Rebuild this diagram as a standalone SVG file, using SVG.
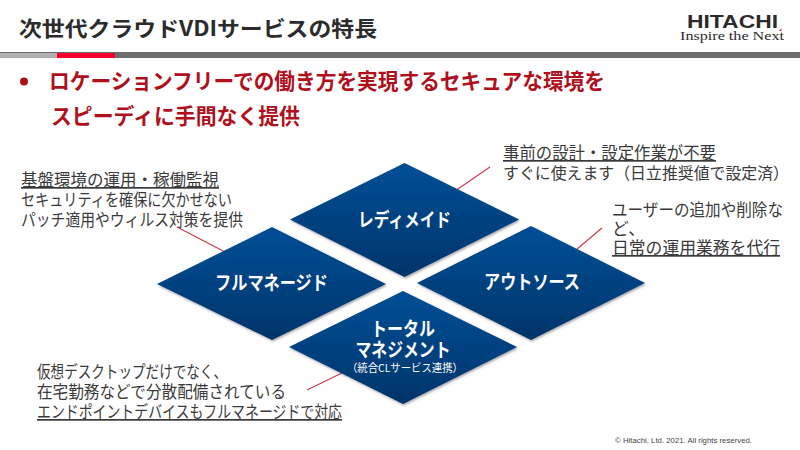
<svg xmlns="http://www.w3.org/2000/svg" width="800" height="450" viewBox="0 0 800 450">
<style>
text{font-family:"Noto Sans CJK JP","Liberation Sans",sans-serif}
.note{font-size:17px;fill:#3a3a3a}
.u{text-decoration:underline}
.lead{font-size:21.5px;font-weight:700;fill:#b0101c}
.d{fill:url(#g);filter:url(#s)}
.dt{font-size:19px;font-weight:700;fill:#fff;text-anchor:middle}
.c{stroke:#cf3a4c;stroke-width:1.2;fill:none}
</style>
<defs>
<linearGradient id="g" x1="0" y1="0" x2="0" y2="1"><stop offset="0" stop-color="#004f97"/><stop offset="1" stop-color="#003469"/></linearGradient>
<filter id="s" x="-5%" y="-5%" width="110%" height="115%"><feDropShadow dx="1" dy="1.5" stdDeviation="1.2" flood-color="#000" flood-opacity=".35"/></filter>
</defs>
<rect width="800" height="450" fill="#fff"/>
<g id="header">
<text x="19" y="36" font-size="21" font-weight="700" fill="#2b2b2b" textLength="358" lengthAdjust="spacingAndGlyphs">次世代クラウドVDIサービスの特長</text>
<rect x="0" y="52" width="800" height="6" fill="#6e6e6e"/>
<rect x="0" y="53" width="57" height="5" fill="#b0b0b0"/>
<rect x="57" y="53" width="58" height="5" fill="#f5002d"/>
</g>
<g id="logo">
<text x="732.500" y="28" font-size="18.500" font-weight="700" fill="#2b2b2b" text-anchor="middle" textLength="91" lengthAdjust="spacingAndGlyphs" style="font-family:'Liberation Sans',sans-serif">HITACHI</text>
<text x="680" y="40" font-size="12.500" fill="#2b2b2b" textLength="104" lengthAdjust="spacingAndGlyphs" style="font-family:'Liberation Serif',serif">Inspire the Next</text>
<path d="M779 31l3-3-1 3z" fill="#e60027"/>
</g>
<g id="lead">
<circle cx="24" cy="81.500" r="4" fill="#b0101c"/>
<text class="lead" x="49" y="89" textLength="556" lengthAdjust="spacingAndGlyphs">ロケーションフリーでの働き方を実現するセキュアな環境を</text>
<text class="lead" x="51" y="124" textLength="249" lengthAdjust="spacingAndGlyphs">スピーディに手間なく提供</text>
</g>
<g id="connectors">
<line class="c" x1="177" y1="227" x2="227" y2="253"/>
<line class="c" x1="490" y1="167" x2="455" y2="191"/>
<line class="c" x1="602" y1="228" x2="577" y2="249"/>
<line class="c" x1="307" y1="390" x2="346" y2="371"/>
</g>
<g id="node-readymade">
<polygon class="d" points="404.500,163 519,219.500 404.500,277 290,219.500"/>
<text class="dt" x="404.500" y="227" textLength="93" lengthAdjust="spacingAndGlyphs">レディメイド</text>
</g>
<g id="node-fullmanaged">
<polygon class="d" points="272,227 386,284 272,340 157,284"/>
<text class="dt" x="271.500" y="290" textLength="113" lengthAdjust="spacingAndGlyphs">フルマネージド</text>
</g>
<g id="node-outsource">
<polygon class="d" points="531,226 645,283 531,340 417,283"/>
<text class="dt" x="532" y="289" textLength="96" lengthAdjust="spacingAndGlyphs">アウトソース</text>
</g>
<g id="node-total">
<polygon class="d" points="403,291 517,347 403,404 289,347"/>
<text class="dt" x="403" y="336" textLength="64" lengthAdjust="spacingAndGlyphs">トータル</text>
<text class="dt" x="403" y="357" textLength="95" lengthAdjust="spacingAndGlyphs">マネジメント</text>
<text x="405" y="372" font-size="11" fill="#fff" text-anchor="middle" textLength="116" lengthAdjust="spacingAndGlyphs">（統合CLサービス連携）</text>
</g>
<g id="notes">
<text class="note u" x="21" y="186" textLength="198" lengthAdjust="spacingAndGlyphs">基盤環境の運用・稼働監視</text>
<text class="note" x="21" y="206" textLength="211" lengthAdjust="spacingAndGlyphs">セキュリティを確保に欠かせない</text>
<text class="note" x="21" y="226" textLength="222" lengthAdjust="spacingAndGlyphs">パッチ適用やウィルス対策を提供</text>
<text class="note u" x="503" y="159" textLength="213" lengthAdjust="spacingAndGlyphs">事前の設計・設定作業が不要</text>
<text class="note" x="503" y="179" style="font-size:16.300px" textLength="286" lengthAdjust="spacingAndGlyphs">すぐに使えます（日立推奨値で設定済）</text>
<text class="note" x="612" y="216" textLength="171" lengthAdjust="spacingAndGlyphs">ユーザーの追加や削除な</text>
<text class="note" x="612" y="235">ど、</text>
<text class="note u" x="612" y="254" textLength="168" lengthAdjust="spacingAndGlyphs">日常の運用業務を代行</text>
<text class="note" x="37" y="378" textLength="190" lengthAdjust="spacingAndGlyphs">仮想デスクトップだけでなく、</text>
<text class="note" x="37" y="398" textLength="249" lengthAdjust="spacingAndGlyphs">在宅勤務などで分散配備されている</text>
<text class="note u" x="37" y="418" textLength="305" lengthAdjust="spacingAndGlyphs">エンドポイントデバイスもフルマネージドで対応</text>
</g>
<text x="615" y="443" font-size="8" fill="#444" textLength="137" lengthAdjust="spacingAndGlyphs" style="font-family:'Liberation Sans',sans-serif">© Hitachi, Ltd. 2021. All rights reserved.</text>
</svg>
